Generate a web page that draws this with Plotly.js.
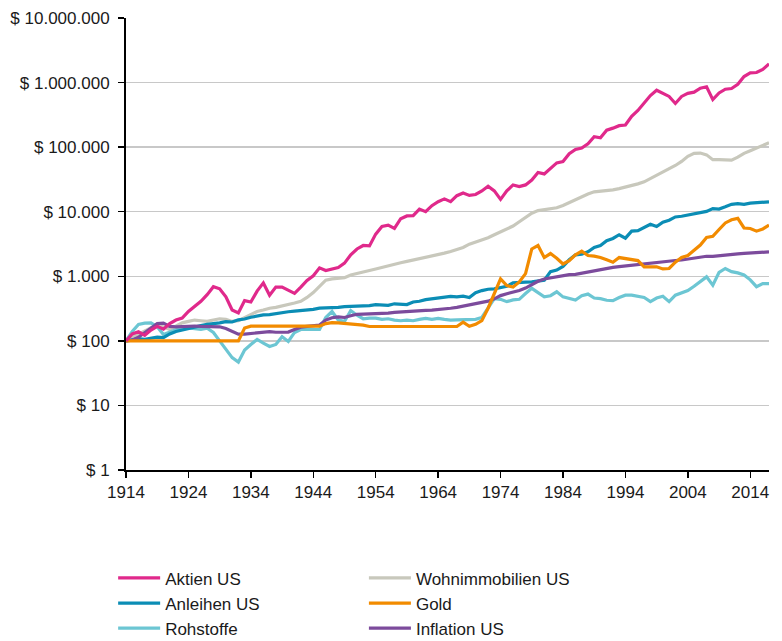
<!DOCTYPE html>
<html>
<head>
<meta charset="utf-8">
<script src="https://cdn.plot.ly/plotly-3.0.1.min.js"></script>
<style>
  html, body { margin: 0; padding: 0; background: #fff; }
  #chart { width: 782px; height: 641px; }
</style>
</head>
<body>
<div id="chart"></div>
<script>
const years = [1914,1915,1916,1917,1918,1919,1920,1921,1922,1923,1924,1925,1926,1927,1928,1929,1930,1931,1932,1933,
  1934,1935,1936,1937,1938,1939,1940,1941,1942,1943,1944,1945,1946,1947,1948,1949,1950,1951,1952,1953,
  1954,1955,1956,1957,1958,1959,1960,1961,1962,1963,1964,1965,1966,1967,1968,1969,1970,1971,1972,1973,
  1974,1975,1976,1977,1978,1979,1980,1981,1982,1983,1984,1985,1986,1987,1988,1989,1990,1991,1992,1993,
  1994,1995,1996,1997,1998,1999,2000,2001,2002,2003,2004,2005,2006,2007,2008,2009,2010,2011,2012,2013,
  2014,2015,2016,2017];

const aktienUS = [100,128,138,122,147,168,152,185,210,225,
  285,340,410,520,690,640,480,300,270,420,
  400,590,790,510,680,680,610,545,680,860,
  1020,1350,1230,1290,1370,1600,2150,2650,3000,2950,
  4500,5900,6200,5500,7800,8600,8700,11000,10000,12400,
  14300,15800,14300,17700,19500,17900,18500,21000,24800,21000,
  15500,21000,26000,24500,26000,31000,40500,38500,46500,57000,
  60000,79000,92000,97000,113000,145000,140000,183000,197000,215000,
  220000,300000,370000,490000,630000,760000,690000,610000,475000,610000,
  680000,710000,820000,860000,545000,690000,790000,810000,940000,1240000,
  1410000,1430000,1600000,1950000];

const wohnimmobilienUS = [100,112,125,140,160,170,165,150,170,190,
  200,210,205,200,210,220,215,200,205,230,
  260,285,300,320,330,345,360,385,410,470,
  560,700,870,910,930,950,1050,1100,1150,1230,
  1300,1380,1450,1550,1620,1700,1780,1850,1950,2050,
  2150,2280,2420,2600,2800,3150,3400,3650,3950,4400,
  4900,5400,6000,7000,8200,9500,10400,10800,11000,11500,
  12500,13800,15500,17200,18800,20300,20600,21000,21800,22800,
  24000,25500,27000,29000,32500,36000,41000,46000,52000,60000,
  72000,80000,81000,76000,64000,64000,63000,63000,70000,80000,
  88000,97000,106000,117000];

const anleihenUS = [100,104,108,106,110,114,112,128,140,148,
  158,165,172,180,184,190,198,196,212,218,
  232,242,252,255,265,275,282,288,292,300,
  308,322,325,322,330,340,342,338,345,352,
  365,362,355,375,368,365,400,410,435,445,
  462,470,488,480,492,470,555,600,630,640,
  670,700,790,810,810,820,840,870,1180,1250,
  1420,1800,2150,2200,2400,2800,3000,3550,3850,4400,
  3900,5000,5100,5700,6400,5900,6900,7400,8300,8500,
  8900,9100,9500,10100,11200,11000,11900,13000,13300,13000,
  13600,13700,13900,14200];

const gold = [100,100,100,100,100,100,100,100,100,100,
  100,100,100,100,100,100,100,100,100,158,
  169,169,169,169,169,169,169,169,169,169,
  169,169,185,192,190,186,184,182,175,167,
  167,167,167,167,167,167,167,167,167,167,
  167,167,167,167,195,168,180,205,320,540,
  910,720,680,820,1100,2650,3000,1950,2250,1900,
  1550,1750,2150,2450,2100,2050,1950,1800,1650,1950,
  1880,1850,1750,1400,1390,1400,1300,1320,1650,1950,
  2100,2500,3050,4000,4150,5300,6700,7500,7900,5600,
  5500,5000,5400,6200];

const rohstoffe = [100,140,180,188,190,165,125,135,150,162,
  158,152,150,157,135,100,75,55,47,72,
  88,105,92,82,88,116,98,135,150,152,
  150,150,230,285,210,200,295,250,220,225,
  225,215,220,210,205,210,205,215,222,215,
  222,215,210,212,215,218,215,230,330,450,
  440,405,430,440,540,650,560,480,500,575,
  480,450,430,500,530,460,450,425,420,470,
  510,510,485,470,405,460,490,405,510,560,
  600,700,820,980,730,1150,1320,1180,1130,1050,
  880,690,770,770];

const inflationUS = [100,102,114,135,160,185,188,168,165,167,
  167,170,168,166,165,165,155,140,127,127,
  130,133,135,139,136,136,137,150,163,168,
  172,176,210,228,235,230,245,258,260,262,
  260,262,269,277,282,286,290,292,296,300,
  304,310,320,330,345,365,385,398,412,448,
  502,538,565,603,657,745,838,910,946,982,
  1020,1058,1070,1117,1165,1220,1295,1335,1375,1412,
  1450,1487,1537,1563,1589,1632,1688,1714,1756,1788,
  1848,1911,1960,2040,2041,2097,2127,2191,2229,2262,
  2277,2293,2340,2390];

const xTickVals = [1914,1924,1934,1944,1954,1964,1974,1984,1994,2004,2014];
const yTickVals = [1,10,100,1000,10000,100000,1000000,10000000];
const yTickText = ['$ 1','$ 10','$ 100','$ 1.000','$ 10.000','$ 100.000','$ 1.000.000','$ 10.000.000'];

const FONT = '"Liberation Sans", Arial, sans-serif';

function tr(name, y, color, rank, leg) {
  return { type: 'scatter', mode: 'lines', name: name, x: years, y: y,
    line: { color: color, width: 3.2 }, legendrank: rank, legend: leg, hoverinfo: 'skip' };
}

const data = [
  tr('Wohnimmobilien US', wohnimmobilienUS, '#c8c8bc', 1, 'legend2'),
  tr('Rohstoffe', rohstoffe, '#6cc6d3', 3, 'legend'),
  tr('Anleihen US', anleihenUS, '#0b8db5', 2, 'legend'),
  tr('Inflation US', inflationUS, '#7c4b9c', 3, 'legend2'),
  tr('Gold', gold, '#f28b00', 2, 'legend2'),
  tr('Aktien US', aktienUS, '#e0298b', 1, 'legend')
];

const legendCommon = {
  orientation: 'v', y: -0.2, yanchor: 'top', xanchor: 'left',
  itemwidth: 42, traceorder: 'normal', tracegroupgap: 0,
  font: { family: FONT, size: 17, color: '#1a1a1a' },
  bgcolor: 'rgba(0,0,0,0)'
};

const layout = {
  width: 782, height: 641,
  margin: { l: 126, r: 13, t: 18, b: 171, autoexpand: false },
  paper_bgcolor: '#ffffff', plot_bgcolor: '#ffffff',
  font: { family: FONT, size: 17, color: '#1a1a1a' },
  showlegend: true,
  xaxis: {
    range: [1914, 2017], tickvals: xTickVals, ticktext: xTickVals.map(String),
    ticks: 'outside', ticklen: 6, tickwidth: 1.5, tickcolor: '#000',
    showline: true, linecolor: '#000', linewidth: 2,
    showgrid: false, zeroline: false,
    tickfont: { family: FONT, size: 17, color: '#1a1a1a' }
  },
  yaxis: {
    type: 'log', range: [0, 7], tickvals: yTickVals, ticktext: yTickText,
    ticks: 'outside', ticklen: 6, tickwidth: 1.5, tickcolor: '#000',
    showline: true, linecolor: '#000', linewidth: 2,
    showgrid: true, gridcolor: '#c8c8c8', gridwidth: 1.5, zeroline: false,
    ticklabelstandoff: 5,
    tickfont: { family: FONT, size: 17, color: '#1a1a1a' }
  },
  legend: Object.assign({}, legendCommon, { x: -0.02 }),
  legend2: Object.assign({}, legendCommon, { x: 0.37 })
};

Plotly.newPlot('chart', data, layout, { displayModeBar: false, staticPlot: true });
</script>
</body>
</html>
